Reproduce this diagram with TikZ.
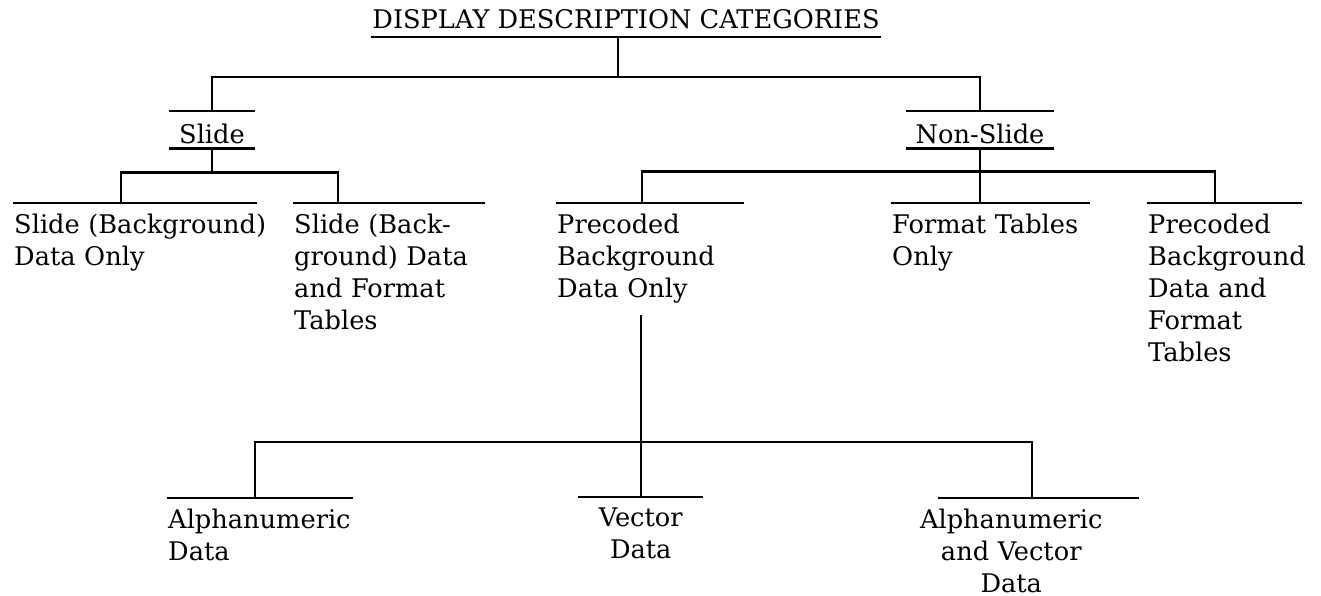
\documentclass[tikz,border=0pt]{standalone}
\usepackage{fontspec}
\setmainfont{DejaVu Serif}
\hyphenpenalty=10000
\begin{document}
\begin{tikzpicture}[x=0.2mm,y=-0.2mm,line width=1.4pt,
  every node/.style={font=\fontsize{14.6}{18.2}\selectfont,inner sep=0pt},
  cat/.style={anchor=north west,text width=#1,align=left,inner ysep=2mm},
  head/.style={anchor=north,minimum width=#1,text height=6.2mm,text depth=0.8mm}]
\useasboundingbox (0,0) rectangle (1321,596);

\node[anchor=base,text depth=1.4mm] (title) at (626,29) {DISPLAY DESCRIPTION CATEGORIES};
\draw (title.south west) -- (title.south east);

\node[head=16.6mm] (slide) at (212,111) {Slide};
\node[head=29mm] (nonslide) at (980,111) {Non-Slide};
\foreach \n in {slide,nonslide}
  \draw (\n.north west) -- (\n.north east) (\n.south west) -- (\n.south east);

\node[cat=48.4mm] (A) at (13,203) {Slide~(Background)\\Data Only};
\node[cat=38mm] (B) at (293,203) {Slide (Back-\\ground) Data\\and Format\\Tables};
\node[cat=37.2mm] (C) at (556,203) {Precoded\\Background\\Data Only};
\node[cat=39.4mm] (D) at (891,203) {Format~Tables\\Only};
\node[cat=30.6mm] (E) at (1147,203) {Precoded\\Background\\Data and\\Format\\Tables};
\node[cat=36.8mm] (F) at (167,498) {Alphanumeric\\Data};
\node[cat=24.6mm,align=center] (G) at (578,497) {Vector\\Data};
\node[cat=38mm,align=center] (H) at (915,498) {Alphanumeric\\and Vector\\Data};
\foreach \n in {A,B,C,D,E,F,G}
  \draw (\n.north west) -- (\n.north east);
\draw ([xshift=4.6mm]H.north west) -- ++(201,0);

\draw ([xshift=-1.6mm]title.south) -- ++(0,40) coordinate (t1);
\draw (slide.north) |- (t1) -| (nonslide.north);
\draw (slide.south) -- ++(0,24) coordinate (s1);
\draw ([xshift=21.6mm]A.north west) |- (s1) -| ([xshift=9mm]B.north west);
\draw (nonslide.south) -- ++(0,23) coordinate (n1);
\draw ([xshift=17.2mm]C.north west) |- (n1) -| ([xshift=13.6mm]E.north west);
\draw (n1) -- (n1 |- D.north);
\draw (G.north) -- ++(0,-55) coordinate (g1) -- (G.north |- C.south);
\draw ([xshift=17.6mm]F.north west) |- (g1) -| ([xshift=23.4mm]H.north west);
\end{tikzpicture}
\end{document}
